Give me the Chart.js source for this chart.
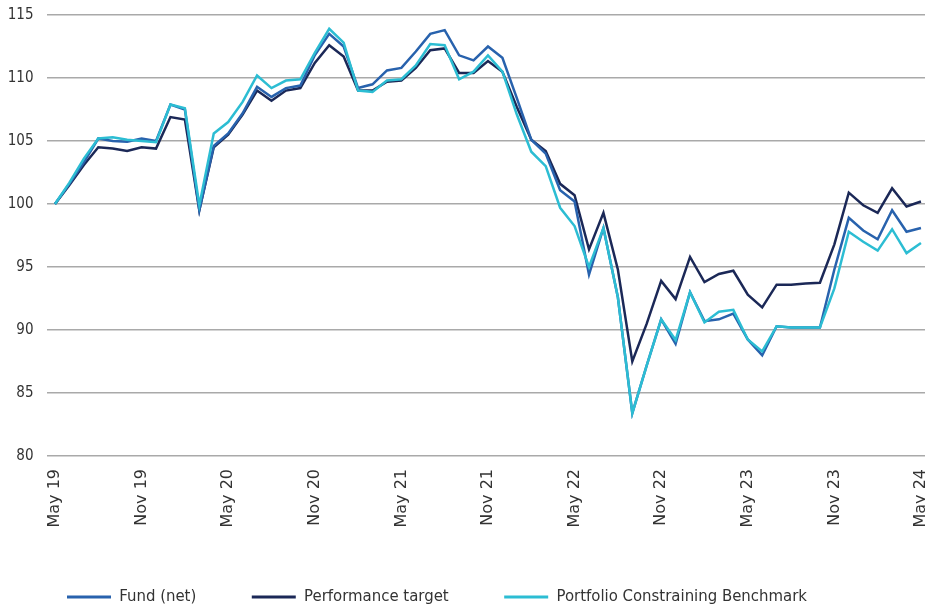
<!DOCTYPE html>
<html>
<head>
<meta charset="utf-8">
<script src="https://cdn.jsdelivr.net/npm/chart.js@4.4.1/dist/chart.umd.min.js"></script>
<style>
  html, body { margin: 0; padding: 0; background: #fff; }
  #wrap { width: 925px; height: 607px; position: relative; }
</style>
</head>
<body>
<div id="wrap"><canvas id="chart"></canvas></div>
<script>
// tick labels, one every 6 months (May 19 .. May 24)
const tickLabels = ['May 19', 'Nov 19', 'May 20', 'Nov 20', 'May 21', 'Nov 21',
                    'May 22', 'Nov 22', 'May 23', 'Nov 23', 'May 24'];
const tickEvery = 6;

// monthly values, rebased to 100 in May 19
const fundNet = [
  100, 101.6, 103.3, 105.2, 105.0, 104.95, 105.2, 105.0, 107.9, 107.5,
  99.5, 104.6, 105.6, 107.2, 109.3, 108.5, 109.2, 109.4, 111.8, 113.5,
  112.5, 109.2, 109.5, 110.6, 110.8, 112.1, 113.5, 113.8, 111.8, 111.4,
  112.5, 111.6, 108.4, 105.1, 104.0, 101.1, 100.2, 94.4, 98.1, 92.6,
  83.4, 87.2, 90.85, 88.9, 93.0, 90.7, 90.85, 91.3, 89.25, 88.0,
  90.3, 90.2, 90.2, 90.2, 94.8, 98.9, 97.9, 97.2, 99.5, 97.8,
  98.1
];
const perfTarget = [
  100, 101.5, 103.1, 104.5, 104.4, 104.2, 104.5, 104.4, 106.9, 106.7,
  99.5, 104.5, 105.5, 107.1, 109.0, 108.2, 109.0, 109.2, 111.2, 112.6,
  111.7, 109.0, 109.0, 109.7, 109.8, 110.8, 112.2, 112.35, 110.4, 110.4,
  111.35, 110.5, 107.7, 105.1, 104.2, 101.6, 100.7, 96.4, 99.3, 94.8,
  87.5, 90.5, 93.9, 92.45, 95.8, 93.8, 94.45, 94.7, 92.8, 91.8,
  93.6, 93.6, 93.7, 93.75, 96.8, 100.9, 99.9, 99.3, 101.25, 99.8,
  100.2
];
const benchmark = [
  100, 101.7, 103.6, 105.2, 105.3, 105.1, 105.0, 104.9, 107.9, 107.6,
  99.9, 105.6, 106.5, 108.1, 110.2, 109.2, 109.8, 109.9, 112.0, 113.9,
  112.8, 109.0, 108.9, 109.8, 109.9, 111.0, 112.7, 112.6, 109.9, 110.5,
  111.8, 110.5, 107.1, 104.15, 103.0, 99.7, 98.25, 95.0, 98.1, 92.6,
  83.4, 87.2, 90.85, 89.2, 93.0, 90.6, 91.45, 91.6, 89.25, 88.3,
  90.3, 90.2, 90.2, 90.2, 93.3, 97.8, 97.0, 96.3, 98.0, 96.1,
  96.9
];

const seriesNames = ['Fund (net)', 'Performance target', 'Portfolio Constraining Benchmark'];
const seriesColors = ['#2862ad', '#1b2857', '#2cbdd3'];

const textFont = "'Liberation Sans Narrow', 'DejaVu Sans Condensed', 'Open Sans', sans-serif";

function toPoints(values) {
  return values.map((v, i) => ({ x: i, y: v }));
}

const allSeries = [fundNet, perfTarget, benchmark];
const drawOrder = [1, 2, 0]; // benchmark drawn on top

// nudge the legend row a little to the right, like in the original
const legendShift = {
  id: 'legendShift',
  afterLayout(chart) {
    chart.legend.left += 11.5;
  },
};

const ctx = document.getElementById('chart').getContext('2d');
const chart = new Chart(ctx, {
  type: 'line',
  data: {
    datasets: allSeries.map((s, k) => ({
      label: seriesNames[k],
      data: toPoints(s),
      borderColor: seriesColors[k],
      backgroundColor: seriesColors[k],
      borderWidth: 2.5,
      pointRadius: 0,
      tension: 0,
      order: drawOrder[k],
    })),
  },
  plugins: [legendShift],
  options: {
    responsive: true,
    maintainAspectRatio: false,
    animation: false,
    layout: { padding: { left: 0, top: 15, right: 0, bottom: 0 } },
    plugins: {
      tooltip: { enabled: false },
      legend: {
        position: 'bottom',
        align: 'start',
        maxHeight: 73.8,
        labels: {
          boxWidth: 44,
          boxHeight: 3,
          padding: 55.5,
          color: '#333333',
          font: { family: textFont, size: 16.6 },
          sort: (a, b) => a.datasetIndex - b.datasetIndex,
          generateLabels: (c) => Chart.defaults.plugins.legend.labels.generateLabels(c)
            .map(l => Object.assign(l, { lineWidth: 0 })),
        },
      },
    },
    scales: {
      x: {
        type: 'linear',
        min: -0.554,
        max: 60.28,
        grid: { display: false },
        border: { display: false },
        afterBuildTicks: (s) => {
          s.ticks = tickLabels.map((t, k) => ({ value: k * tickEvery }));
        },
        afterFit: (s) => {
          s.height = 77.2;
          s.paddingLeft = 0;
          s.paddingRight = 0;
        },
        ticks: {
          autoSkip: false,
          minRotation: 90,
          maxRotation: 90,
          padding: 5,
          color: '#333333',
          font: { family: "'DejaVu Sans', sans-serif", size: 16 },
          callback: (v) => tickLabels[v / tickEvery],
        },
      },
      y: {
        min: 80,
        max: 115,
        grid: { color: '#a9a9a9', lineWidth: 1.5, drawTicks: false },
        border: { display: false },
        afterFit: (s) => {
          s.width = 47;
          s.paddingTop = 0;
          s.paddingBottom = 0;
        },
        ticks: {
          stepSize: 5,
          padding: 13.5,
          color: '#333333',
          font: { family: textFont, size: 15 },
        },
      },
    },
  },
});
</script>
</body>
</html>
